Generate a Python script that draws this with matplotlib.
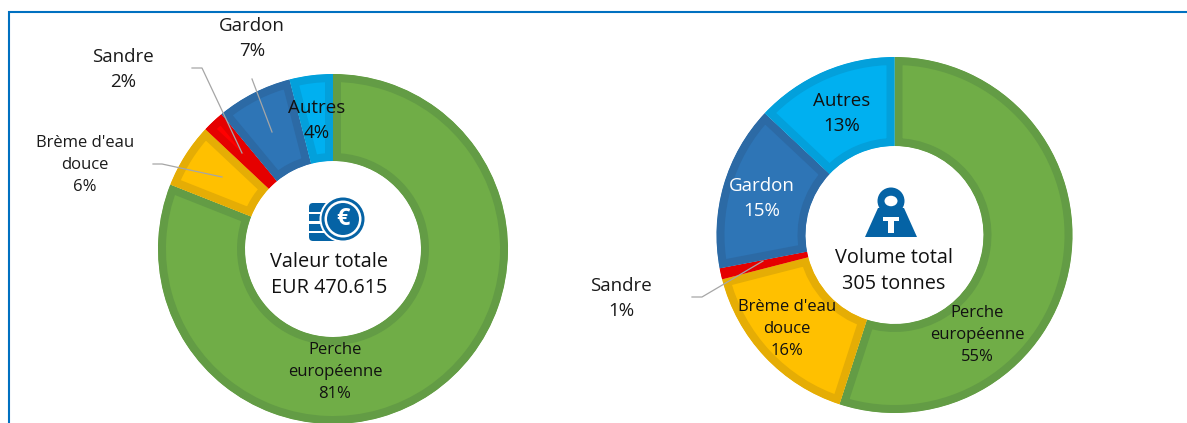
import matplotlib
matplotlib.use("Agg")
import matplotlib.pyplot as plt
from matplotlib.patches import Circle, Polygon, Rectangle, FancyBboxPatch, Ellipse

W, H = 1187, 423
species = ["Perche européenne", "Brème d'eau douce", "Sandre", "Gardon", "Autres"]
value_shares = [81, 6, 2, 7, 4]
volume_shares = [55, 16, 1, 15, 13]
fill_colors = ["#70AD47", "#FFC000", "#FF0000", "#2E75B6", "#00B0F0"]
edge_colors = ["#639C45", "#E5AD05", "#E50000", "#2C6AA5", "#03A0DB"]
value_total = "Valeur totale\nEUR 470.615"
volume_total = "Volume total\n305 tonnes"
FONT = "Open Sans"
ICON = "#0563A5"
GREY = "#A6A6A6"

plt.rcParams["font.family"] = FONT
fig = plt.figure(figsize=(W / 100, H / 100), dpi=100)
ax = fig.add_axes([0, 0, 1, 1])


def Y(y):
    return H - y


def donut(values, cx, cy, r, rin):
    wedges, _ = ax.pie(values, colors=fill_colors, startangle=90, counterclock=False,
                       center=(cx, Y(cy)), radius=r, frame=False,
                       wedgeprops=dict(width=r - rin, linewidth=0))
    return wedges


all_wedges = donut(value_shares, 333, 249, 175, 88) + donut(volume_shares, 894.5, 235, 178, 89)
ax.set_xlim(0, W)
ax.set_ylim(0, H)
ax.set_aspect("auto")
ax.axis("off")
for w, c in zip(all_wedges, edge_colors * 2):
    w.set_edgecolor(c)
    w.set_linewidth(11.5)
    w.set_joinstyle("miter")
    w.set_clip_on(True)
    w.set_clip_path(w.get_path(), w.get_transform())

# frame
ax.plot([9, 9, W], [0, Y(12), Y(12)], color="#0070C0", lw=1.5, solid_joinstyle="miter", zorder=1)


def label(x, y, s, size=13.5, color="#1a1a1a", ls=1.5):
    ax.text(x, Y(y), s, ha="center", va="center", fontsize=size, color=color, linespacing=ls, zorder=6)


def leader(pts):
    ax.plot([p[0] for p in pts], [Y(p[1]) for p in pts], color=GREY, lw=0.9, zorder=5)


leader([(192, 68), (202, 68), (242, 153)])
leader([(252, 79), (272, 132)])
leader([(153, 164), (162, 164), (222, 177)])
leader([(692, 297), (702, 297), (763, 261)])

# left labels
label(252, 38, "Gardon\n7%")
label(123, 69, "Sandre\n2%")
label(85, 165, "Brème d'eau\ndouce\n6%", 12)
label(317, 120, "Autres\n4%", 13.5, "#111111")
label(335, 372, "Perche\neuropéenne\n81%", 12, "#111111")
label(329, 275, value_total, 14.3, "#111111", 1.42)

# right labels
label(621, 298, "Sandre\n1%")
label(842, 113, "Autres\n13%", 13.5, "#111111")
label(762, 198, "Gardon\n15%", 13.5, "white")
label(787, 329, "Brème d'eau\ndouce\n16%", 12, "#111111")
label(977, 335, "Perche\neuropéenne\n55%", 12, "#111111")
label(894, 271, volume_total, 14.3, "#111111", 1.42)

# coin icon
ax.add_patch(FancyBboxPatch((309, Y(241)), 32, 38, boxstyle="round,pad=0,rounding_size=4",
                            fc=ICON, ec="none", zorder=6))
for yy in (213, 222.5, 232):
    ax.add_patch(Rectangle((308, Y(yy + 1)), 20, 2.2, fc="white", ec="none", zorder=6.5))
ax.add_patch(Circle((343, Y(219)), 23.5, fc="white", ec="none", zorder=6.6))
ax.add_patch(Circle((343, Y(219)), 21.5, fc=ICON, ec="none", zorder=7))
ax.add_patch(Circle((343, Y(219)), 18.5, fc="white", ec="none", zorder=8))
ax.add_patch(Circle((343, Y(219)), 16, fc=ICON, ec="none", zorder=9))
ax.text(343, Y(219), "€", ha="center", va="center", fontsize=17, fontweight="bold",
        color="white", zorder=10)

# weight icon
ax.add_patch(Polygon([(865, Y(237)), (917, Y(237)), (904, Y(208)), (878, Y(208))],
                     fc=ICON, ec="none", zorder=6))
ax.add_patch(Circle((891, Y(201)), 13.5, fc=ICON, ec="none", zorder=6))
ax.add_patch(Ellipse((891, Y(201)), 13, 10.5, fc="white", ec="none", zorder=7))
ax.add_patch(Rectangle((883, Y(221)), 16, 4, fc="white", ec="none", zorder=7))
ax.add_patch(Rectangle((888, Y(233)), 6, 14, fc="white", ec="none", zorder=7))

fig.savefig("out.png", dpi=100, facecolor="white")
